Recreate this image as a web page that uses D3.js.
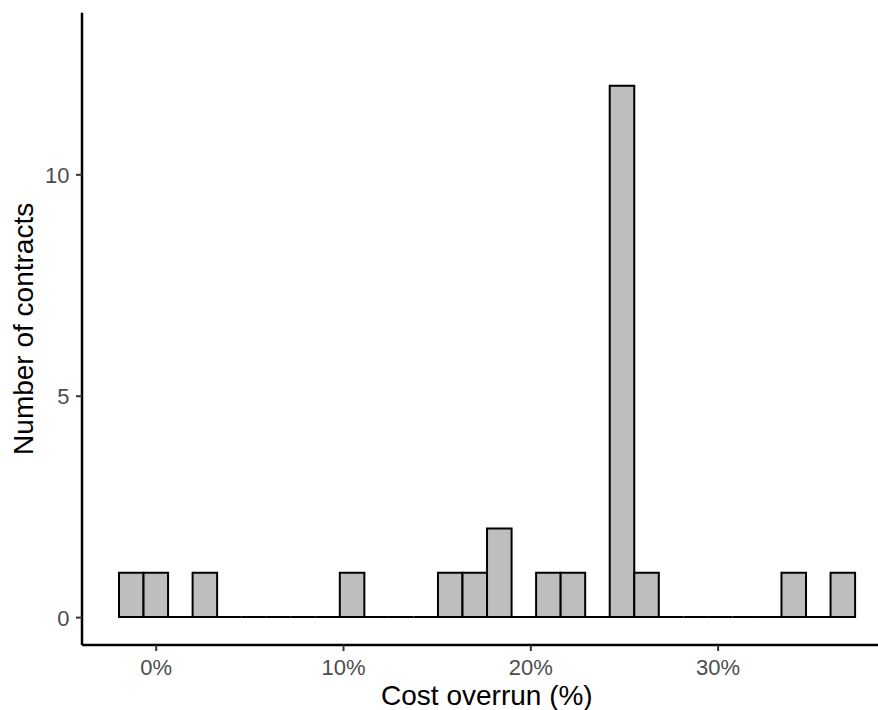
<!DOCTYPE html>
<html>
<head>
<meta charset="utf-8">
<script src="https://cdn.jsdelivr.net/npm/d3@7"></script>
<style>
  html, body { margin: 0; padding: 0; background: #ffffff; }
  svg { display: block; }
  text { font-family: "Liberation Sans", Arial, sans-serif; }
</style>
</head>
<body>
<script>
// Histogram of cost overruns: 30 equal-width bins (in percent)
const binStart = -1.96;
const binWidth = 1.31;
const binCounts = [1, 1, 0, 1, 0, 0, 0, 0, 0, 1,
                   0, 0, 0, 1, 1, 2, 0, 1, 1, 0,
                   12, 1, 0, 0, 0, 0, 0, 1, 0, 1];
const xTicks = [0, 10, 20, 30];
const yTicks = [0, 5, 10];
const xTitle = "Cost overrun (%)";
const yTitle = "Number of contracts";

const W = 878, H = 710;
const svg = d3.select("body").append("svg")
  .attr("width", W).attr("height", H);

const bins = binCounts.map((c, i) => ({
  x0: binStart + i * binWidth,
  x1: binStart + (i + 1) * binWidth,
  count: c
}));

const x = d3.scaleLinear().domain([-3.935, 39.3]).range([82, 891.8]);
const y = d3.scaleLinear().domain([-0.63, 13.65]).range([645, 12.7]);

// bars (paths so that empty bins still show their outline on the baseline)
svg.append("g")
  .selectAll("path")
  .data(bins)
  .join("path")
  .attr("d", d => {
    const a = x(d.x0), b = x(d.x1), y0 = y(0), y1 = y(d.count);
    return `M${a},${y0}V${y1}H${b}V${y0}Z`;
  })
  .attr("fill", "#bebebe")
  .attr("stroke", "#000")
  .attr("stroke-width", 2)
  .attr("stroke-linejoin", "miter");

// x axis
const xAxis = svg.append("g")
  .attr("transform", `translate(0,645)`)
  .call(d3.axisBottom(x).tickValues(xTicks).tickFormat(d => d + "%")
    .tickSizeInner(6).tickSizeOuter(0).tickPadding(6));
xAxis.select(".domain").attr("stroke", "#000").attr("stroke-width", 2.5)
  .attr("d", `M82,0H${W + 20}`);
xAxis.selectAll(".tick line").attr("stroke", "#333").attr("stroke-width", 2);
xAxis.selectAll(".tick text")
  .attr("fill", "#4d4d4d").attr("font-size", 22)
  .attr("font-family", "Liberation Sans, Arial, sans-serif")
  .attr("dy", "0.72em").attr("y", 14);

// y axis
const yAxis = svg.append("g")
  .attr("transform", `translate(82,0)`)
  .call(d3.axisLeft(y).tickValues(yTicks).tickFormat(d3.format("d"))
    .tickSizeInner(6).tickSizeOuter(0).tickPadding(6));
yAxis.select(".domain").attr("stroke", "#000").attr("stroke-width", 2.5)
  .attr("d", `M0,${y.range()[1]}V${y.range()[0]}`);
yAxis.selectAll(".tick line").attr("stroke", "#333").attr("stroke-width", 2);
yAxis.selectAll(".tick text")
  .attr("fill", "#4d4d4d").attr("font-size", 22)
  .attr("font-family", "Liberation Sans, Arial, sans-serif")
  .attr("x", -12.5).attr("dy", "0.36em");

// axis titles
svg.append("text")
  .attr("x", (82 + 891.8) / 2).attr("y", 705)
  .attr("text-anchor", "middle")
  .attr("font-size", 28).attr("fill", "#000")
  .text(xTitle);

svg.append("text")
  .attr("transform", `translate(33,${(12.7 + 645) / 2}) rotate(-90)`)
  .attr("text-anchor", "middle")
  .attr("font-size", 28).attr("fill", "#000")
  .text(yTitle);
</script>
</body>
</html>
